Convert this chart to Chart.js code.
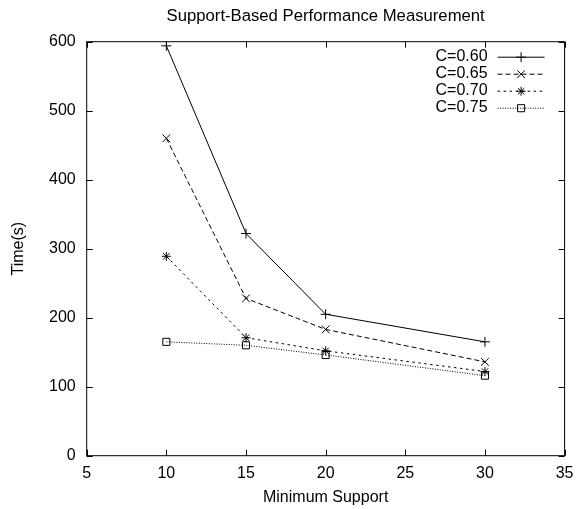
<!DOCTYPE html>
<html>
<head>
<meta charset="utf-8">
<script src="https://cdn.jsdelivr.net/npm/chart.js@4.4.1/dist/chart.umd.min.js"></script>
<style>
  html, body { margin: 0; padding: 0; background: #fff; }
  #wrap { width: 582px; height: 509px; }
</style>
</head>
<body>
<div id="wrap"><canvas id="perf-chart" width="582" height="509"></canvas></div>
<script>
const support = [10, 15, 20, 30];
const seriesNames = ['C=0.60', 'C=0.65', 'C=0.70', 'C=0.75'];
const c60 = [594, 322, 205, 165];
const c65 = [460, 228, 183, 136];
const c70 = [289, 171, 152, 122];
const c75 = [165, 160, 146, 116];
const chartTitle = 'Support-Based Performance Measurement';

const FONT = '"Liberation Sans", Arial, Helvetica, sans-serif';
const SIZE = 16;

const styles = [
    { dash: [], point: 'cross', r: 5 },
    { dash: [5, 3], point: 'crossRot', r: 5.5 },
    { dash: [2.5, 3.5], point: 'star', r: 4.5 },
    { dash: [1, 1.5], point: 'rect', r: 5 }
];

const toPoints = vals => vals.map((v, i) => ({ x: support[i], y: v }));

const datasets = [c60, c65, c70, c75].map((vals, i) => ({
    label: seriesNames[i],
    data: toPoints(vals),
    borderColor: '#000',
    backgroundColor: 'transparent',
    borderWidth: 1,
    borderDash: styles[i].dash,
    pointStyle: styles[i].point,
    pointRadius: styles[i].r,
    pointBorderColor: '#000',
    pointBorderWidth: 1,
    pointBackgroundColor: 'transparent',
    tension: 0
}));

// same shapes chart.js uses, for the key
function drawMarker(ctx, style, r, x, y) {
    ctx.beginPath();
    const d = r * Math.SQRT1_2;
    if (style === 'cross' || style === 'star') {
        ctx.moveTo(x, y - r); ctx.lineTo(x, y + r);
        ctx.moveTo(x - r, y); ctx.lineTo(x + r, y);
    }
    if (style === 'crossRot' || style === 'star') {
        ctx.moveTo(x - d, y - d); ctx.lineTo(x + d, y + d);
        ctx.moveTo(x - d, y + d); ctx.lineTo(x + d, y - d);
    }
    if (style === 'rect') {
        ctx.rect(x - d, y - d, 2 * d, 2 * d);
    }
    ctx.stroke();
}

// gnuplot-like frame with inward ticks, title over the plot and the key
const frameTicks = {
    id: 'frameTicks',
    afterDatasetsDraw(chart) {
        const { ctx, chartArea: a, scales } = chart;
        const len = 6;
        ctx.save();
        ctx.strokeStyle = '#000';
        ctx.lineWidth = 1;
        ctx.setLineDash([]);
        ctx.strokeRect(a.left, a.top, a.right - a.left, a.bottom - a.top);
        ctx.beginPath();
        scales.x.ticks.forEach(t => {
            const px = Math.round(scales.x.getPixelForValue(t.value)) + 0.5;
            ctx.moveTo(px, a.bottom); ctx.lineTo(px, a.bottom - len);
            ctx.moveTo(px, a.top); ctx.lineTo(px, a.top + len);
        });
        scales.y.ticks.forEach(t => {
            const py = Math.round(scales.y.getPixelForValue(t.value)) + 0.5;
            ctx.moveTo(a.left, py); ctx.lineTo(a.left + len, py);
            ctx.moveTo(a.right, py); ctx.lineTo(a.right - len, py);
        });
        ctx.stroke();

        ctx.fillStyle = '#000';
        ctx.textBaseline = 'middle';
        ctx.textAlign = 'center';
        ctx.font = '16.7px ' + FONT;
        ctx.fillText(chartTitle, (a.left + a.right) / 2, 16);

        ctx.font = SIZE + 'px ' + FONT;
        ctx.textAlign = 'right';
        chart.data.datasets.forEach((ds, i) => {
            const y = a.top + 15 + i * 17;
            ctx.fillText(ds.label, a.right - 77, y);
            ctx.beginPath();
            ctx.setLineDash(ds.borderDash);
            ctx.moveTo(a.right - 67, y + 0.5);
            ctx.lineTo(a.right - 20, y + 0.5);
            ctx.stroke();
            ctx.setLineDash([]);
            drawMarker(ctx, ds.pointStyle, ds.pointRadius, a.right - 43.5, y + 0.5);
        });
        ctx.restore();
    }
};

new Chart(document.getElementById('perf-chart'), {
    type: 'line',
    data: { datasets },
    plugins: [frameTicks],
    options: {
        responsive: false,
        animation: false,
        layout: { padding: { left: 0, right: 15, top: 41.7, bottom: 0 } },
        plugins: {
            legend: { display: false },
            tooltip: { enabled: false },
            title: { display: false }
        },
        scales: {
            x: {
                type: 'linear',
                min: 5,
                max: 35,
                grid: { display: false, drawTicks: false },
                border: { display: false },
                ticks: { stepSize: 5, color: '#000', padding: 8.5, font: { family: FONT, size: SIZE } },
                title: {
                    display: true,
                    text: 'Minimum Support',
                    color: '#000',
                    font: { family: FONT, size: SIZE },
                    padding: { top: 0, bottom: 2 }
                },
                afterFit: s => { s.height = 53.3; }
            },
            y: {
                min: 0,
                max: 600,
                grid: { display: false, drawTicks: false },
                border: { display: false },
                ticks: { stepSize: 100, color: '#000', padding: 11, font: { family: FONT, size: SIZE } },
                title: {
                    display: true,
                    text: 'Time(s)',
                    color: '#000',
                    font: { family: FONT, size: SIZE },
                    padding: { top: 9, bottom: 0 }
                },
                afterFit: s => { s.width = 86.7; }
            }
        }
    }
});
</script>
</body>
</html>
